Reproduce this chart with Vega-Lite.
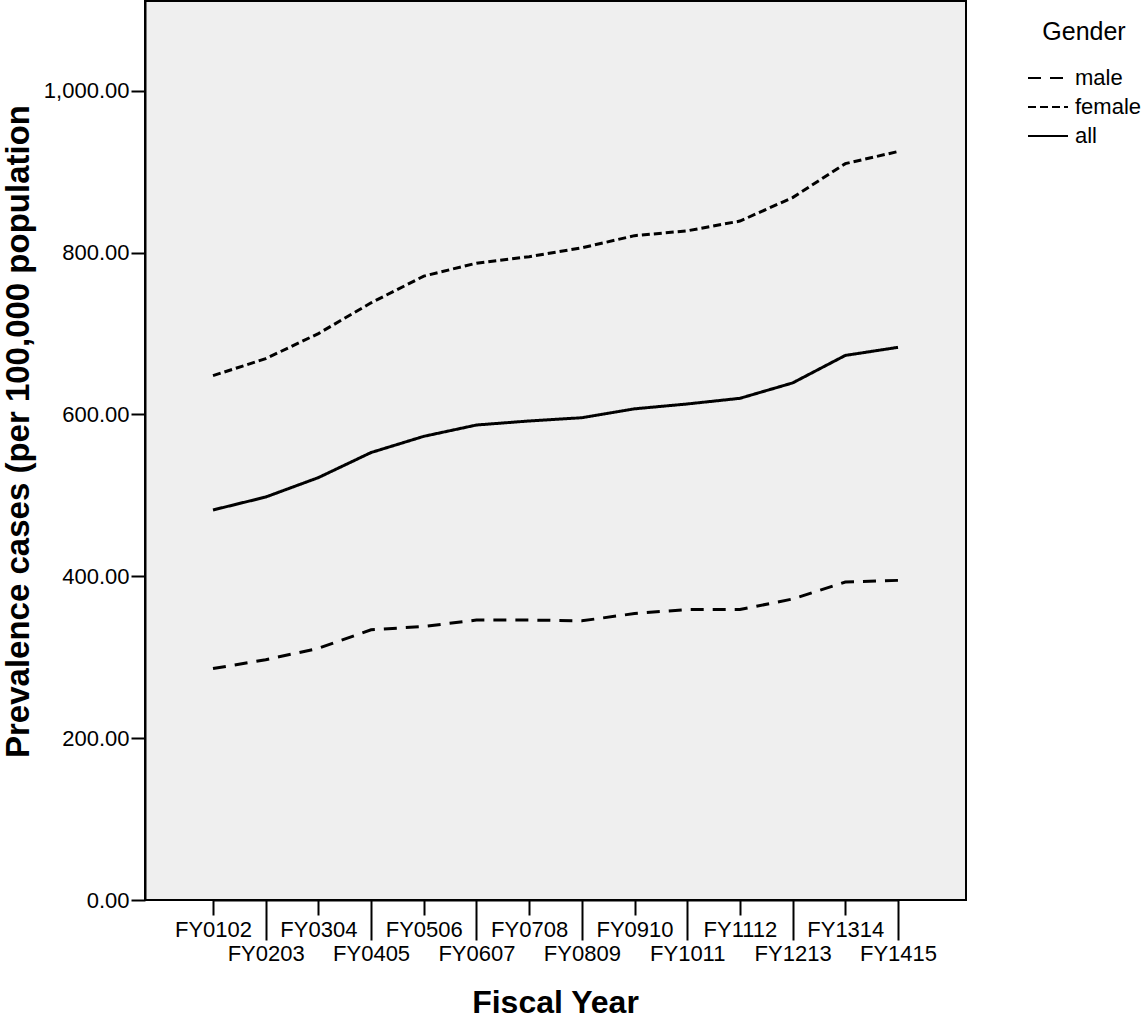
{
  "$schema": "https://vega.github.io/schema/vega-lite/v6.json",
  "width": 821,
  "height": 899,
  "autosize": {"type": "none"},
  "padding": {"left": 145, "top": 1, "right": 179, "bottom": 118},
  "background": "white",
  "config": {
    "font": "Liberation Sans",
    "view": {"fill": "#efefef", "stroke": "black", "strokeWidth": 2},
    "axis": {"labelColor": "black", "titleColor": "black", "tickColor": "black", "domainColor": "black", "domainWidth": 2, "tickWidth": 2, "grid": false}
  },
  "data": {
    "values": [
      {"fy": "FY0102", "gender": "male", "value": 286},
      {"fy": "FY0203", "gender": "male", "value": 297},
      {"fy": "FY0304", "gender": "male", "value": 311},
      {"fy": "FY0405", "gender": "male", "value": 334},
      {"fy": "FY0506", "gender": "male", "value": 338},
      {"fy": "FY0607", "gender": "male", "value": 346},
      {"fy": "FY0708", "gender": "male", "value": 346},
      {"fy": "FY0809", "gender": "male", "value": 345},
      {"fy": "FY0910", "gender": "male", "value": 354},
      {"fy": "FY1011", "gender": "male", "value": 359},
      {"fy": "FY1112", "gender": "male", "value": 359},
      {"fy": "FY1213", "gender": "male", "value": 372},
      {"fy": "FY1314", "gender": "male", "value": 393},
      {"fy": "FY1415", "gender": "male", "value": 395},
      {"fy": "FY0102", "gender": "female", "value": 648},
      {"fy": "FY0203", "gender": "female", "value": 669},
      {"fy": "FY0304", "gender": "female", "value": 700},
      {"fy": "FY0405", "gender": "female", "value": 738},
      {"fy": "FY0506", "gender": "female", "value": 771},
      {"fy": "FY0607", "gender": "female", "value": 787},
      {"fy": "FY0708", "gender": "female", "value": 795},
      {"fy": "FY0809", "gender": "female", "value": 806},
      {"fy": "FY0910", "gender": "female", "value": 821},
      {"fy": "FY1011", "gender": "female", "value": 827},
      {"fy": "FY1112", "gender": "female", "value": 839},
      {"fy": "FY1213", "gender": "female", "value": 868},
      {"fy": "FY1314", "gender": "female", "value": 910},
      {"fy": "FY1415", "gender": "female", "value": 925},
      {"fy": "FY0102", "gender": "all", "value": 482},
      {"fy": "FY0203", "gender": "all", "value": 498},
      {"fy": "FY0304", "gender": "all", "value": 522},
      {"fy": "FY0405", "gender": "all", "value": 553},
      {"fy": "FY0506", "gender": "all", "value": 573},
      {"fy": "FY0607", "gender": "all", "value": 587},
      {"fy": "FY0708", "gender": "all", "value": 592},
      {"fy": "FY0809", "gender": "all", "value": 596},
      {"fy": "FY0910", "gender": "all", "value": 607},
      {"fy": "FY1011", "gender": "all", "value": 613},
      {"fy": "FY1112", "gender": "all", "value": 620},
      {"fy": "FY1213", "gender": "all", "value": 639},
      {"fy": "FY1314", "gender": "all", "value": 673},
      {"fy": "FY1415", "gender": "all", "value": 683}
    ]
  },
  "encoding": {
    "y": {
      "field": "value",
      "type": "quantitative",
      "scale": {"domain": [0, 1111], "nice": false, "zero": true},
      "axis": {
        "title": "Prevalence cases (per 100,000 population",
        "titleFontSize": 33,
        "titleFontWeight": "bold",
        "titleAngle": 270,
        "titleAlign": "center",
        "titleBaseline": "bottom",
        "titleX": -110,
        "titleY": 430,
        "values": [0, 200, 400, 600, 800, 1000],
        "format": ",.2f",
        "labelFontSize": 22,
        "labelPadding": 2,
        "tickSize": 14
      }
    }
  },
  "layer": [
    {
      "mark": {"type": "line", "strokeWidth": 3, "color": "black", "strokeCap": "butt"},
      "encoding": {
        "x": {
          "field": "fy",
          "type": "ordinal",
          "sort": null,
          "scale": {"type": "point", "padding": 0, "range": [68, 753]},
          "axis": {
            "values": ["FY0102", "FY0304", "FY0506", "FY0708", "FY0910", "FY1112", "FY1314"],
            "orient": "bottom",
            "labelAngle": 0,
            "labelFontSize": 22,
            "labelPadding": 4,
            "labelOverlap": false,
            "tickSize": 15,
            "title": "Fiscal Year",
            "titleFontSize": 32,
            "titleFontWeight": "bold",
            "titleX": 410,
            "titleY": 87,
            "titleBaseline": "top",
            "titleAlign": "center"
          }
        },
        "strokeDash": {
          "field": "gender",
          "type": "nominal",
          "scale": {"domain": ["male", "female", "all"], "range": [[13, 9], [8, 4], [1, 0]]},
          "legend": {
            "title": "Gender",
            "orient": "none",
            "legendX": 882,
            "legendY": 19,
            "titleFontSize": 25,
            "titleFontWeight": "normal",
            "titleAnchor": "middle",
            "titlePadding": 22,
            "titleColor": "black",
            "labelFontSize": 22,
            "labelColor": "black",
            "labelOffset": 26,
            "symbolType": "M-1,0H3",
            "symbolSize": 400,
            "symbolStrokeWidth": 2,
            "symbolStrokeColor": "black",
            "rowPadding": 7,
            "padding": 0
          }
        }
      }
    },
    {
      "mark": {"type": "point", "opacity": 0},
      "encoding": {
        "x": {
          "field": "fy",
          "type": "ordinal",
          "sort": null,
          "scale": {"type": "point", "padding": 0, "range": [68, 753]},
          "axis": {
            "values": ["FY0203", "FY0405", "FY0607", "FY0809", "FY1011", "FY1213", "FY1415"],
            "orient": "bottom",
            "labelAngle": 0,
            "labelFontSize": 22,
            "labelPadding": 3,
            "labelOverlap": false,
            "tickSize": 40,
            "domain": false,
            "title": null
          }
        }
      }
    }
  ],
  "resolve": {"axis": {"x": "independent"}}
}
